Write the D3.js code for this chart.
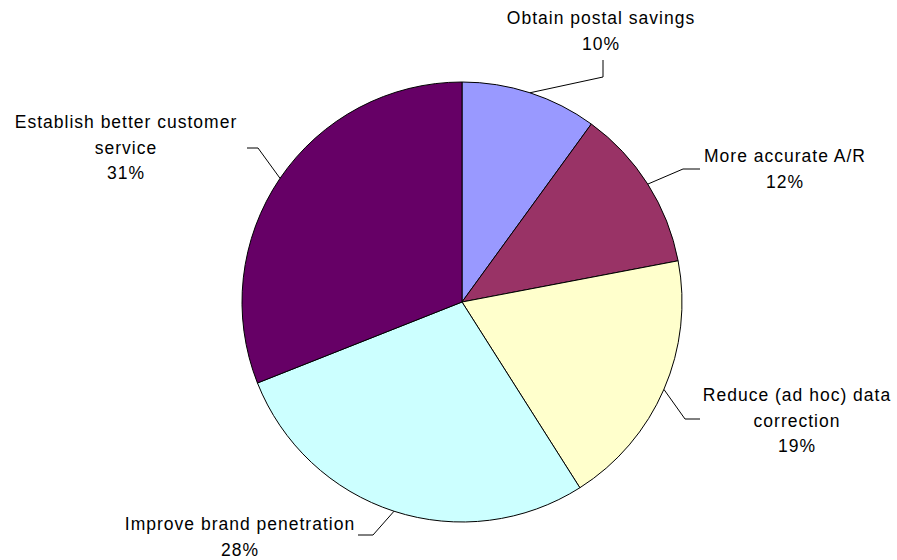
<!DOCTYPE html>
<html><head><meta charset="utf-8">
<script src="https://cdn.jsdelivr.net/npm/d3@7"></script>
<style>
html,body{margin:0;padding:0;background:#fff;}
text{font-family:Arial,"Liberation Sans",sans-serif;font-size:17.5px;fill:#000;letter-spacing:1px;}
</style></head>
<body><svg id="c" width="897" height="560"></svg>
<script>
const categories = ["Obtain postal savings","More accurate A/R","Reduce (ad hoc) data correction","Improve brand penetration","Establish better customer service"];
const values = [10, 12, 19, 28, 31];
const colors = ["#9999FF","#993366","#FFFFCC","#CCFFFF","#660066"];
const labelLines = [["Obtain postal savings"],["More accurate A/R"],["Reduce (ad hoc) data","correction"],["Improve brand penetration"],["Establish better customer","service"]];

// layout for labels (annotation placement); ty = first baseline
const layout = [
  {elbow:[603,77], end:[603,60], tx:601, ty:24},
  {elbow:[683,169], end:[700,169], tx:785, ty:162},
  {elbow:[685,419], end:[700,419], tx:797, ty:401},
  {elbow:[373,535], end:[358,535], tx:240, ty:530},
  {elbow:[258,148], end:[247,148], tx:126, ty:128}
];

const cx = 462, cy = 302, R = 220;
const svg = d3.select("#c");
const g = svg.append("g").attr("transform",`translate(${cx},${cy})`);
const pie = d3.pie().sort(null).value(d=>d)(values);
const arc = d3.arc().innerRadius(0).outerRadius(R);
g.selectAll("path").data(pie).join("path")
  .attr("d",arc).attr("fill",(d,i)=>colors[i])
  .attr("stroke","#000").attr("stroke-width",1);

const total = d3.sum(values);
pie.forEach((d,i)=>{
  const a = (d.startAngle+d.endAngle)/2;
  const sx = cx + R*Math.sin(a), sy = cy - R*Math.cos(a);
  const L = layout[i];
  svg.append("polyline")
    .attr("points",[[sx,sy],L.elbow,L.end].map(p=>p.join(",")).join(" "))
    .attr("fill","none").attr("stroke","#000").attr("stroke-width",1);
  const lines = labelLines[i].concat([Math.round(values[i]/total*100)+"%"]);
  const t = svg.append("text").attr("text-anchor","middle");
  lines.forEach((s,k)=>{
    t.append("tspan").attr("x",L.tx).attr("y",L.ty+k*25.5).text(s);
  });
});
</script></body></html>
